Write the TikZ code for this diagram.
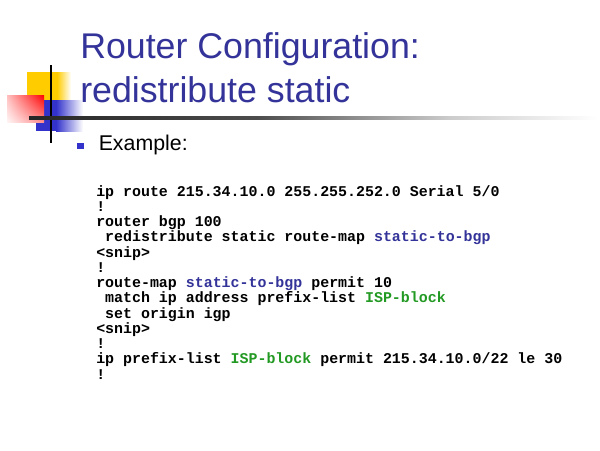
\documentclass[tikz,border=0pt]{standalone}
\usepackage{fontspec}
\setmainfont{Liberation Sans}
\newfontfamily\codefont{Liberation Mono}
\usetikzlibrary{shadings}
\definecolor{titleblue}{HTML}{333399}
\definecolor{codeblue}{HTML}{333399}
\definecolor{codegreen}{HTML}{229922}
\definecolor{bulletblue}{HTML}{3333CC}
\definecolor{decoyellow}{HTML}{FFCC00}
\definecolor{decoblue}{HTML}{3333CC}
\pgfdeclarehorizontalshading{rulefade}{100bp}{color(0bp)=(black!85); color(25bp)=(black!85); color(45bp)=(black!70); color(62bp)=(black!20); color(75bp)=(white); color(100bp)=(white)}
\newcommand{\cblue}[1]{\textcolor{codeblue}{#1}}
\newcommand{\cgreen}[1]{\textcolor{codegreen}{#1}}
\newcommand{\ind}{\phantom{x}}
\tikzset{
  titletext/.style={anchor=base west, inner sep=0pt, text=titleblue, font=\fontsize{26.8}{30}\selectfont},
  bullettext/.style={anchor=base west, inner sep=0pt, font=\fontsize{16}{19}\selectfont},
  bulletbox/.style={fill=bulletblue, inner sep=0pt, minimum size=5.2pt},
  codeline/.style={anchor=base west, inner sep=0pt, font=\codefont\bfseries\fontsize{11.2}{13}\selectfont},
}

\begin{document}
\begin{tikzpicture}[x=0.75pt, y=-0.75pt]
    \useasboundingbox (0, 0) rectangle (600, 450);
    % decoration
    \fill[decoyellow](27, 72) rectangle (57, 100);
    \shade[left color=decoyellow, right color=white](57, 72) rectangle (71, 100);
    \fill[decoblue](36, 100) rectangle (56, 131);
    \shade[left color=decoblue, right color=white](56, 100) rectangle (83, 131);
    \shade[upper right=red, upper left=red!25, lower right=red!45, lower left=red!4](7, 95) rectangle (44, 122);
    \draw[line width=1.1pt](51, 65)--(51, 143);
    \shade[shading=rulefade](29, 116.8) rectangle (598, 119.2);

    % title
    \node[titletext] (title1) at (80, 58){Router Configuration:};
    \node[titletext] (title2) at (80, 102){redistribute static};

    % bullet
    \node[bulletbox] (bul) at (80.5, 146){};
    \node[bullettext] (example) at (98.5, 150){Example:};

    % config
    \node[codeline] (l0) at (96, 196){ip route 215.34.10.0 255.255.252.0 Serial 5/0};
    \node[codeline] (l1) at (96, 211.25){!};
    \node[codeline] (l2) at (96, 226.5){router bgp 100};
    \node[codeline] (l3) at (96, 241.75){\ind redistribute static route-map \cblue{static-to-bgp}};
    \node[codeline] (l4) at (96, 257){<snip>};
    \node[codeline] (l5) at (96, 272.25){!};
    \node[codeline] (l6) at (96, 287.5){route-map \cblue{static-to-bgp} permit 10};
    \node[codeline] (l7) at (96, 302.75){\ind match ip address prefix-list \cgreen{ISP-block}};
    \node[codeline] (l8) at (96, 318){\ind set origin igp};
    \node[codeline] (l9) at (96, 333.25){<snip>};
    \node[codeline] (l10) at (96, 348.5){!};
    \node[codeline] (l11) at (96, 363.75){ip prefix-list \cgreen{ISP-block} permit 215.34.10.0/22 le 30};
    \node[codeline] (l12) at (96, 379){!};
\end{tikzpicture}
\end{document}
